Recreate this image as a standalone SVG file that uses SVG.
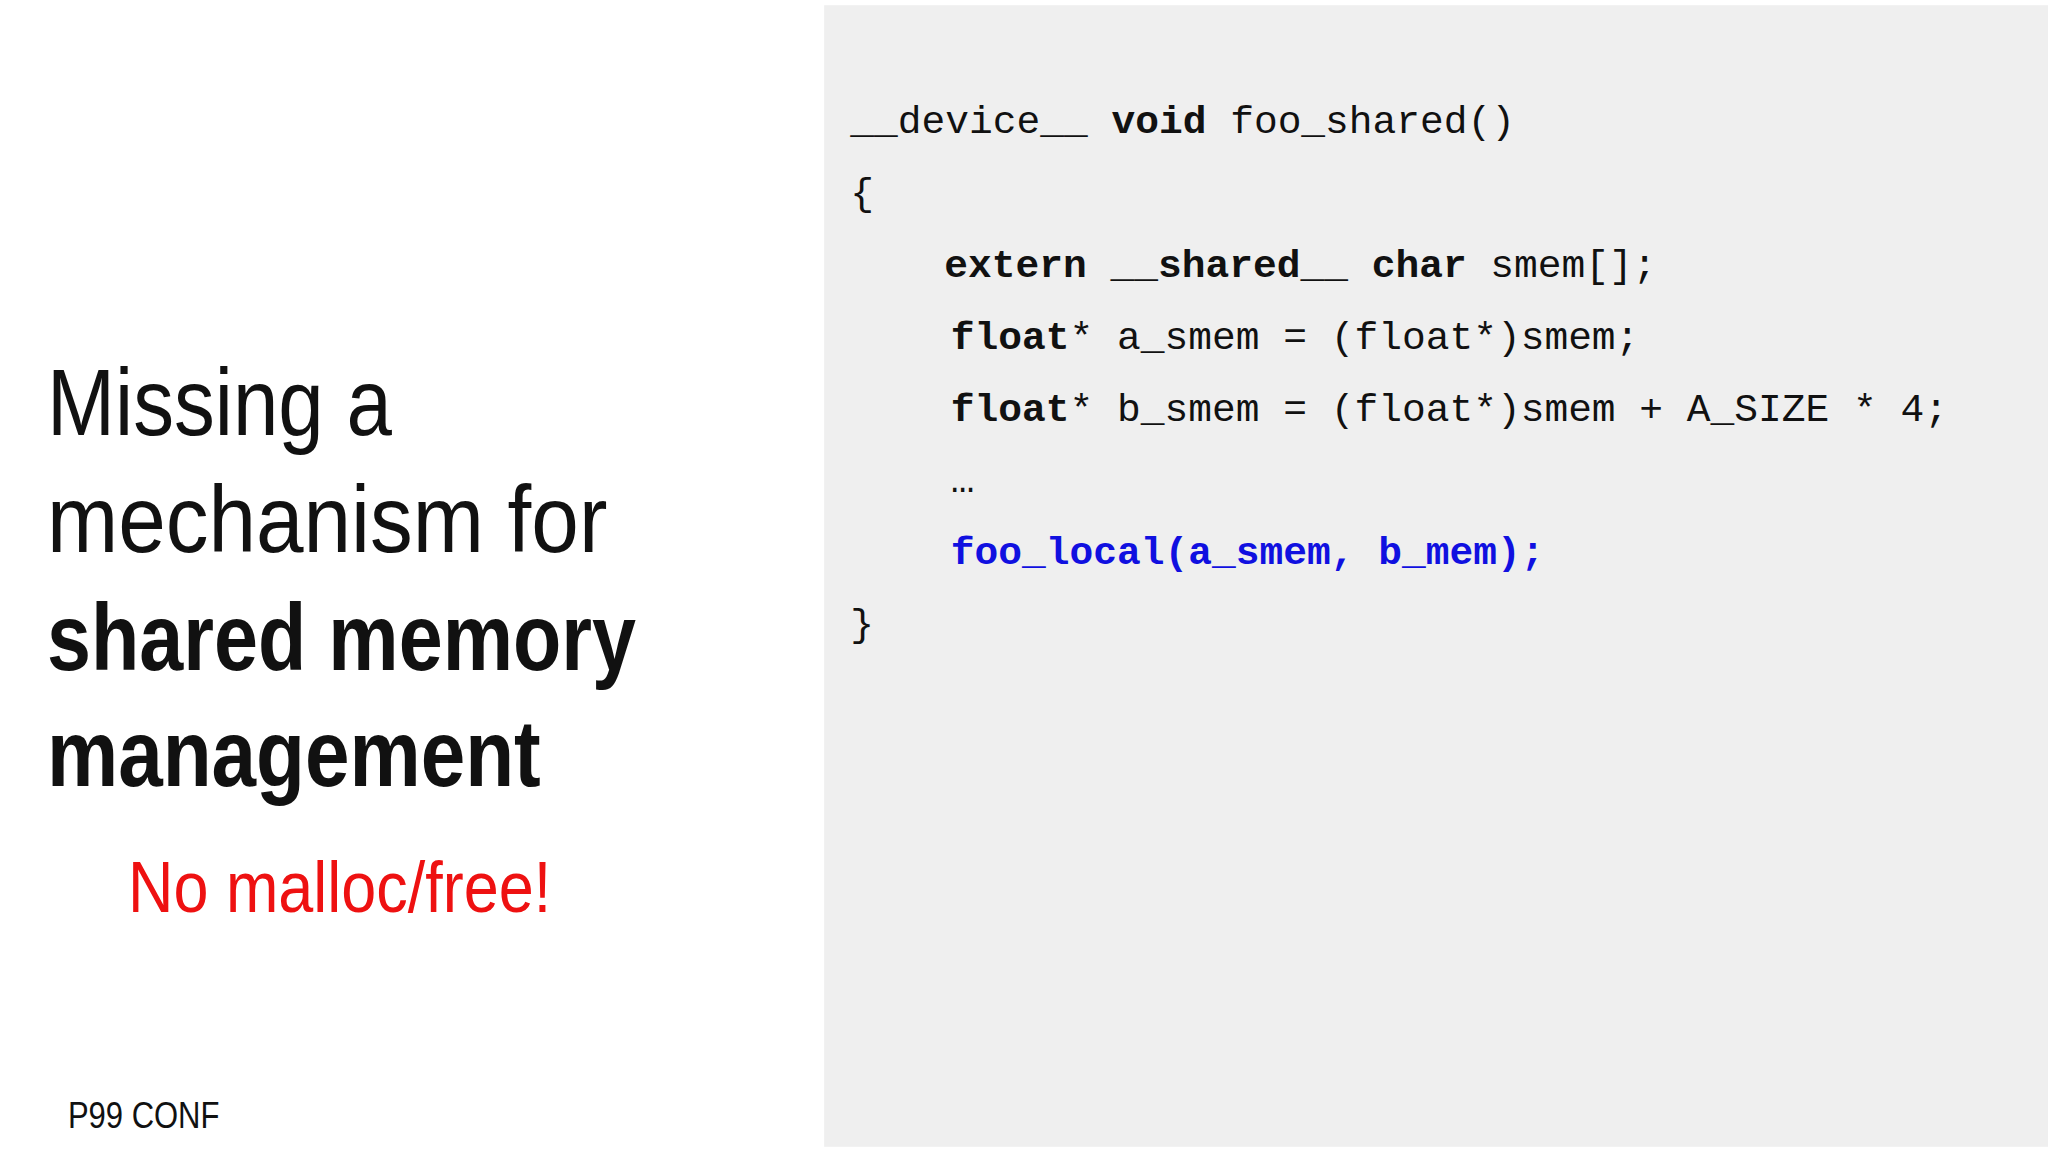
<svg xmlns="http://www.w3.org/2000/svg" width="2048" height="1152" viewBox="0 0 2048 1152">
<style>
.t{font-family:"Liberation Sans",Arial,sans-serif;fill:#111}
.c{font-family:"Liberation Mono","DejaVu Sans Mono",monospace;font-size:30.3px;fill:#111}
.b{font-weight:bold}
.blue{fill:#1010e0;font-weight:bold}
</style>
<rect width="2048" height="1152" fill="#ffffff"/>
<g transform="scale(1.30612)">
<g id="panel"><rect x="631" y="4" width="937" height="874" fill="#efefef"/></g>
<g id="title">
<text class="t" x="36" y="333" font-size="72" textLength="264" lengthAdjust="spacingAndGlyphs">Missing a</text>
<text class="t" x="36" y="423" font-size="72" textLength="429" lengthAdjust="spacingAndGlyphs">mechanism for</text>
<text class="t b" x="36" y="513" font-size="72" textLength="451" lengthAdjust="spacingAndGlyphs">shared memory</text>
<text class="t b" x="36" y="602" font-size="72" textLength="378" lengthAdjust="spacingAndGlyphs">management</text>
<text class="t" x="98" y="698" font-size="56" fill="#ee1111" style="fill:#ee1111" textLength="324" lengthAdjust="spacingAndGlyphs">No malloc/free!</text>
<text class="t" x="52" y="864" font-size="28" textLength="116" lengthAdjust="spacingAndGlyphs">P99 CONF</text>
</g>
<g id="code">
<text class="c" x="651" y="102">__device__ <tspan class="b">void</tspan> foo_shared()</text>
<text class="c" x="651" y="157">{</text>
<text class="c" x="723" y="212"><tspan class="b">extern __shared__ char</tspan> smem[];</text>
<text class="c" x="728" y="267"><tspan class="b">float</tspan>* a_smem = (float*)smem;</text>
<text class="c" x="728" y="322"><tspan class="b">float</tspan>* b_smem = (float*)smem + A_SIZE * 4;</text>
<text class="c" x="728" y="377">…</text>
<text class="c blue" x="728" y="432">foo_local(a_smem, b_mem);</text>
<text class="c" x="651" y="487">}</text>
</g>
</g>
</svg>
